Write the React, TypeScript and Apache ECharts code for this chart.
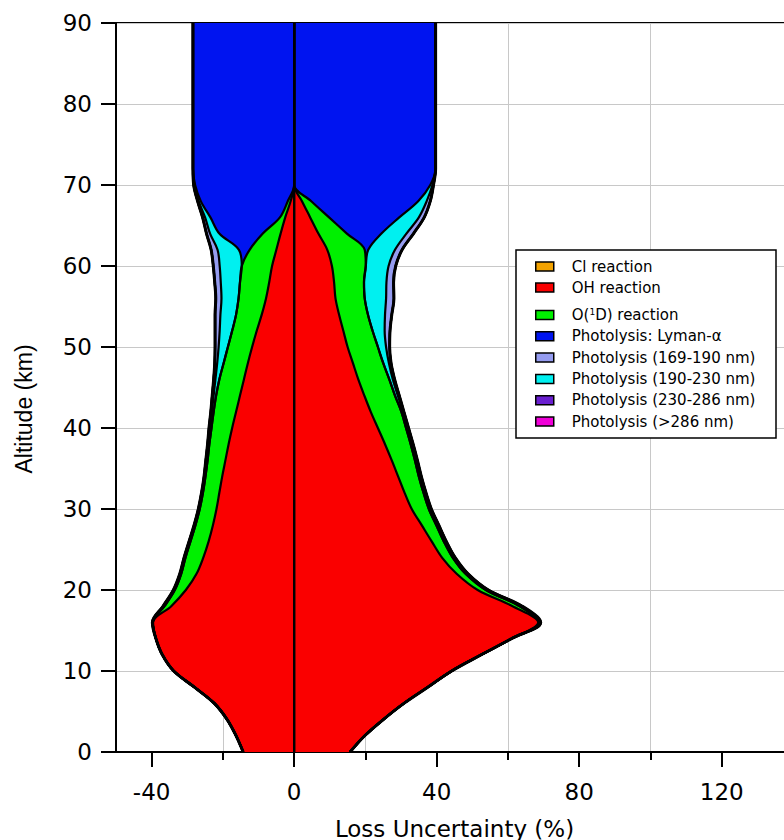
import React, { useEffect, useRef } from 'react';
import * as echarts from 'echarts';

// Altitude categories (km), bottom to top
const ALTITUDES = ['0','2','4','6','8','10','12','14','16','18','20','22','24','26','28','30','32','34','36','38','40','42','44','46','48','50','52','54','56','58','60','62','64','66','68','70','72','74','76','78','80','82','84','86','88','90'];

// Negative-side (lower) uncertainty contributions, magnitudes in %
const CL_L    = [0,0,0,0,0,0,0,0,0,0, 0,0,0,0,0,0,0,0,0,0, 0,0,0,0,0,0,0,0,0,0, 0,0,0,0,0,0,0,0,0,0, 0,0,0,0,0,0];
const OH_L    = [14.3,16.3,18.8,22.4,28.0,33.8,37.0,38.8,39.6,34.5, 30.4,27.4,25.5,24.0,22.8,21.8,21.0,20.2,19.3,18.4, 17.4,16.3,15.2,14.1,13.0,11.8,10.5,9.1,7.9,7.0, 6.2,5.0,3.8,2.5,1.0,0,0,0,0,0, 0,0,0,0,0,0];
const O1D_L   = [0,0,0,0,0,0,0,0,0.1,1.9, 3.1,4.3,5.0,5.1,4.9,4.7,4.6,4.7,5.0,5.4, 5.8,6.3,6.7,6.9,6.8,6.8,6.9,7.2,7.7,8.2, 8.5,7.5,5.0,1.5,0.8,0,0,0,0,0, 0,0,0,0,0,0];
const LYA_L   = [0,0,0,0,0,0,0,0,0,0, 0,0,0,0,0,0,0,0,0,0, 0,0,0,0,0,0,0,0,0,0, 0,3.0,12.2,19.5,24.4,27.8,28.4,28.4,28.4,28.4, 28.4,28.4,28.4,28.4,28.4,28.4];
const P169_L  = [0,0,0,0,0,0,0,0,0.1,0.2, 0.2,0.2,0.2,0.2,0.2,0.2,0.2,0.2,0.2,0.2, 0.3,0.3,0.4,0.5,0.7,1.0,1.3,1.5,1.6,1.7, 1.8,1.8,1.0,0.7,0.3,0.2,0,0,0,0, 0,0,0,0,0,0];
const P190_L  = [0,0,0,0,0,0,0,0,0,0.2, 0.2,0.2,0.2,0.2,0.2,0.2,0.2,0.2,0.3,0.3, 0.4,0.5,0.7,1.1,1.8,2.6,3.5,4.4,4.8,5.4, 6.2,6.0,2.6,1.5,0.6,0.2,0,0,0,0, 0,0,0,0,0,0];
const P230_L  = [0,0,0,0,0,0,0,0,0,0, 0,0,0,0,0,0,0,0,0,0, 0,0,0,0,0,0,0,0,0,0, 0,0,0,0,0,0,0,0,0,0, 0,0,0,0,0,0];
const P286_L  = [0,0,0,0,0,0,0,0,0,0, 0,0,0,0,0,0,0,0,0,0, 0,0,0,0,0,0,0,0,0,0, 0,0,0,0,0,0,0,0,0,0, 0,0,0,0,0,0];

// Positive-side (upper) uncertainty contributions, in %
const CL_R    = [0,0,0,0,0,0,0,0,0,0, 0,0,0,0,0,0,0,0,0,0, 0,0,0,0,0,0,0,0,0,0, 0,0,0,0,0,0,0,0,0,0, 0,0,0,0,0,0];
const OH_R    = [15.7,19.8,25.0,30.8,37.5,44.2,52.5,61.0,68.5,61.3, 51.5,45.6,41.5,38.6,35.8,33.0,31.0,29.2,27.4,25.5, 23.5,21.5,19.7,18.0,16.5,15.0,13.8,12.6,11.6,11.2, 10.6,9.3,6.8,4.5,2.2,0,0,0,0,0, 0,0,0,0,0,0];
const O1D_R   = [0,0,0,0,0,0,0,0,0.3,2.0, 2.3,2.5,3.0,3.4,4.1,4.8,5.3,5.8,6.5,7.2, 7.9,8.6,8.6,8.7,8.5,8.5,8.2,8.1,8.2,8.4, 9.5,10.5,8.0,5.3,2.6,0,0,0,0,0, 0,0,0,0,0,0];
const LYA_R   = [0,0,0,0,0,0,0,0,0,0, 0,0,0,0,0,0,0,0,0,0, 0,0,0,0,0,0,0,0,0,0, 0,1.0,9.7,19.7,30.0,38.2,39.7,39.7,39.7,39.7, 39.7,39.7,39.7,39.7,39.7,39.7];
const P169_R  = [0,0,0,0,0,0,0,0,0.2,0.3, 0.3,0.3,0.3,0.3,0.3,0.3,0.3,0.3,0.3,0.3, 0.3,0.3,0.4,0.5,0.6,1.0,1.5,1.9,2.2,2.0, 2.0,2.0,2.0,1.5,1.0,0.3,0,0,0,0, 0,0,0,0,0,0];
const P190_R  = [0,0,0,0,0,0,0,0,0.2,0.4, 0.4,0.4,0.4,0.4,0.4,0.4,0.4,0.4,0.4,0.4, 0.4,0.4,0.8,1.0,1.6,2.3,3.4,4.8,6.0,6.3, 6.4,7.5,7.0,5.5,2.4,0.6,0,0,0,0, 0,0,0,0,0,0];
const P230_R  = [0,0,0,0,0,0,0,0,0,0, 0,0,0,0,0,0,0,0,0,0, 0,0,0,0,0,0,0,0,0,0, 0,0,0,0,0,0,0,0,0,0, 0,0,0,0,0,0];
const P286_R  = [0,0,0,0,0,0,0,0,0,0, 0,0,0,0,0,0,0,0,0,0, 0,0,0,0,0,0,0,0,0,0, 0,0,0,0,0,0,0,0,0,0, 0,0,0,0,0,0];

const MAJOR_TICKS = [-40, 0, 40, 80, 120];
const MINOR_TICKS = [-20, 20, 60, 100];

const NAMES = {
  cl: 'Cl reaction',
  oh: 'OH reaction',
  o1d: 'O(1D) reaction',
  lya: 'Photolysis: Lyman-α',
  p169: 'Photolysis (169-190 nm)',
  p190: 'Photolysis (190-230 nm)',
  p230: 'Photolysis (230-286 nm)',
  p286: 'Photolysis (>286 nm)',
};

// stacking order from the centre line outward
const LAYERS = [
  { name: NAMES.cl, color: '#f2a200', pos: CL_R, neg: CL_L },
  { name: NAMES.oh, color: '#fa0000', pos: OH_R, neg: OH_L },
  { name: NAMES.o1d, color: '#00f000', pos: O1D_R, neg: O1D_L },
  { name: NAMES.lya, color: '#0014f0', pos: LYA_R, neg: LYA_L },
  { name: NAMES.p190, color: '#00f0f0', pos: P190_R, neg: P190_L },
  { name: NAMES.p169, color: '#959cf0', pos: P169_R, neg: P169_L },
  { name: NAMES.p230, color: '#6a1fd0', pos: P230_R, neg: P230_L },
  { name: NAMES.p286, color: '#f000d8', pos: P286_R, neg: P286_L },
];

const FONT = 'DejaVu Sans';

export default function App() {
  const ref = useRef<HTMLDivElement>(null);
  useEffect(() => {
    document.body.style.margin = '0';
    const chart = echarts.init(ref.current as HTMLDivElement, null, { renderer: 'svg' });
    const series: any[] = [];
    const sides = [
      { key: 'pos', sign: 1 },
      { key: 'neg', sign: -1 },
    ];
    // filled areas
    sides.forEach((side) => {
      LAYERS.forEach((layer) => {
        const vals = (side.key === 'pos' ? layer.pos : layer.neg).map((v) => v * side.sign);
        series.push({
          type: 'line',
          name: layer.name,
          stack: 'area-' + side.key,
          stackStrategy: 'all',
          data: vals,
          xAxisIndex: 0,
          yAxisIndex: 0,
          smooth: 0.35,
          symbol: 'none',
          showSymbol: false,
          lineStyle: { width: 0 },
          areaStyle: { color: layer.color, opacity: 1 },
          itemStyle: { color: layer.color },
          z: 2,
          silent: true,
          emphasis: { disabled: true },
        });
      });
    });
    // black outlines
    sides.forEach((side) => {
      LAYERS.forEach((layer, i) => {
        const vals = (side.key === 'pos' ? layer.pos : layer.neg).map((v) => v * side.sign);
        series.push({
          type: 'line',
          name: layer.name + ' outline',
          stack: 'line-' + side.key,
          stackStrategy: 'all',
          data: vals,
          xAxisIndex: 0,
          yAxisIndex: 0,
          smooth: 0.35,
          symbol: 'none',
          showSymbol: false,
          lineStyle: { color: '#000', width: i === LAYERS.length - 1 ? 3 : 2.2 },
          itemStyle: { color: '#000' },
          z: 3,
          silent: true,
          emphasis: { disabled: true },
        });
      });
    });

    const legendCommon = {
      orient: 'vertical',
      left: 535,
      itemWidth: 18,
      itemHeight: 9,
      padding: 0,
      icon: 'rect',
      selectedMode: false,
      itemStyle: { borderColor: '#000', borderWidth: 1.5 },
      textStyle: {
        fontFamily: FONT,
        fontSize: 15,
        lineHeight: 15,
        color: '#000',
        padding: [0, 0, 0, 13],
        rich: {
          sup: { fontFamily: FONT, fontSize: 9, lineHeight: 8, verticalAlign: 'top', color: '#000' },
        },
      },
      z: 5,
    };

    const option: any = {
      animation: false,
      backgroundColor: '#fff',
      grid: {
        left: 116,
        top: 23,
        width: 677,
        height: 729,
        show: true,
        borderColor: '#000',
        borderWidth: 2,
        backgroundColor: 'transparent',
        containLabel: false,
        outerBoundsMode: 'none',
      },
      xAxis: [
        {
          type: 'value',
          min: -50,
          max: 140,
          splitNumber: 10,
          position: 'bottom',
          axisLine: { show: true, onZero: false, lineStyle: { color: '#000', width: 2 } },
          axisTick: { show: true, customValues: MINOR_TICKS, length: 8, lineStyle: { color: '#000', width: 2 } },
          axisLabel: { show: false },
          splitLine: { show: true, lineStyle: { color: '#c8c8c8', width: 1 } },
        },
        {
          type: 'value',
          min: -50,
          max: 140,
          splitNumber: 10,
          position: 'bottom',
          axisLine: { show: false, onZero: false },
          axisTick: { show: true, customValues: MAJOR_TICKS, length: 15, lineStyle: { color: '#000', width: 2 } },
          axisLabel: { show: true, customValues: MAJOR_TICKS, margin: 28, fontSize: 23, fontFamily: FONT, color: '#000' },
          splitLine: { show: false },
          name: 'Loss Uncertainty (%)',
          nameLocation: 'middle',
          nameGap: 65,
          nameTextStyle: { fontSize: 23, fontFamily: FONT, color: '#000' },
        },
      ],
      yAxis: {
        type: 'category',
        data: ALTITUDES,
        boundaryGap: false,
        axisLine: { show: true, onZero: false, lineStyle: { color: '#000', width: 2 } },
        axisTick: { show: true, interval: 4, length: 15, inside: false, lineStyle: { color: '#000', width: 2 } },
        axisLabel: { interval: 4, margin: 24, fontSize: 23, fontFamily: FONT, color: '#000' },
        splitLine: { show: true, interval: 4, lineStyle: { color: '#c8c8c8', width: 1 } },
      },
      legend: [
        { ...legendCommon, top: 259, itemGap: 6, data: [NAMES.cl, NAMES.oh] },
        {
          ...legendCommon,
          top: 307.5,
          itemGap: 6.3,
          data: [NAMES.o1d, NAMES.lya, NAMES.p169, NAMES.p190, NAMES.p230, NAMES.p286],
          formatter: (name: string) => (name === NAMES.o1d ? 'O({sup|1}D) reaction' : name),
        },
      ],
      graphic: {
        elements: [
          {
            type: 'rect',
            z: 3,
            silent: true,
            shape: { x: 516, y: 250, width: 260, height: 188 },
            style: { fill: '#fff', stroke: '#000', lineWidth: 1.5 },
          },
          {
            type: 'text',
            x: 24,
            y: 409,
            rotation: Math.PI / 2,
            z: 5,
            silent: true,
            style: {
              text: 'Altitude (km)',
              fontSize: 23,
              fontFamily: 'Liberation Sans',
              fill: '#000',
              align: 'center',
              verticalAlign: 'middle',
              textAlign: 'center',
              textVerticalAlign: 'middle',
            },
          },
        ],
      },
      series,
    };
    chart.setOption(option);
    return () => chart.dispose();
  }, []);
  return <div ref={ref} style={{ width: 784, height: 840 }} />;
}
